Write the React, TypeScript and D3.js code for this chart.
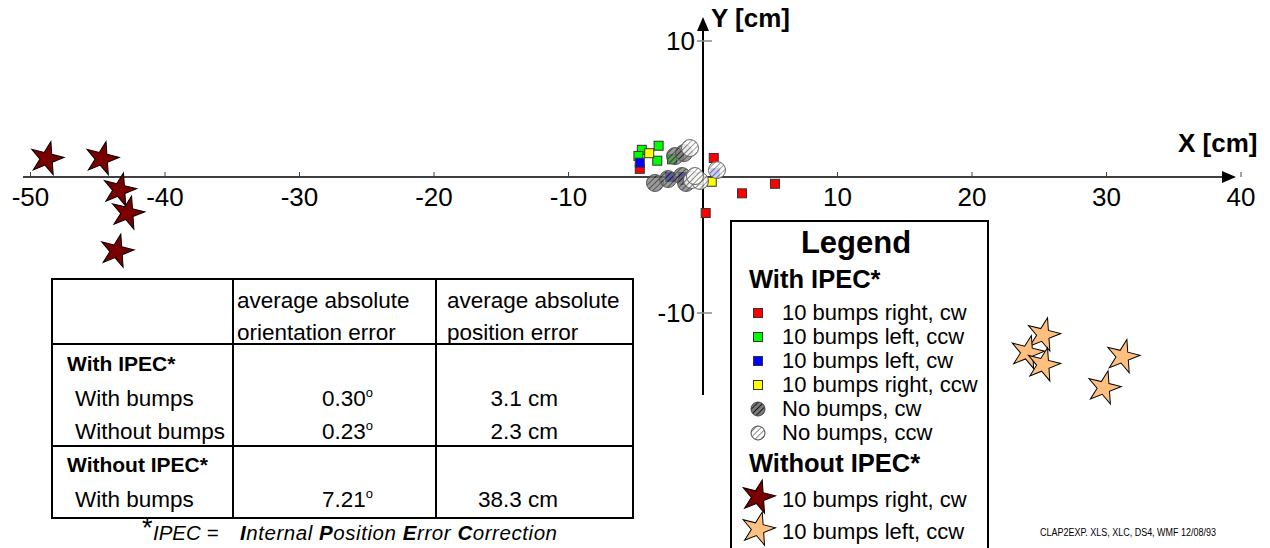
import React from 'react';
import * as d3 from 'd3';

// ---- data (cm) ----
const xTicks = [-50, -40, -30, -20, -10, 10, 20, 30, 40];
const yTicks = [10, -10];

const redRightCw: [number, number][] = [[-4.7, 0.6], [0.8, 1.4], [2.9, -1.2], [5.35, -0.5], [0.2, -2.65]];
const greenLeftCcw: [number, number][] = [[-4.55, 2.0], [-3.3, 2.3], [-4.8, 1.55], [-3.4, 1.2], [-2.3, 1.3]];
const blueLeftCw: [number, number][] = [[-4.7, 1.05], [-2.45, 0.0], [-1.5, 0.0], [0.9, 0.3]];
const yellowRightCcw: [number, number][] = [[-4.0, 1.75], [0.65, -0.35], [-0.35, -0.2], [-0.9, -0.1]];
const noBumpsCw: [number, number][] = [[-3.57, -0.44], [-2.6, -0.15], [-1.56, 0.07], [-1.26, -0.44], [-2.08, 1.54], [-1.41, 1.76]];
const noBumpsCcw: [number, number][] = [[-0.97, 2.13], [1.04, 0.51], [-0.82, -0.22], [-0.22, -0.29], [-0.6, 0.07]];
const starsRightCw: [number, number][] = [[-48.8, 1.35], [-44.7, 1.35], [-43.4, -0.95], [-42.8, -2.65], [-43.6, -5.45]];
const starsLeftCcw: [number, number][] = [[25.3, -11.6], [24.1, -12.9], [25.3, -13.8], [31.2, -13.2], [29.8, -15.5]];

const legendTitle = 'Legend';
const legendGroups = ['With IPEC*', 'Without IPEC*'];
const legendSquareLabels = ['10 bumps right, cw', '10 bumps left, ccw', '10 bumps left, cw', '10 bumps right, ccw'];
const legendCircleLabels = ['No bumps, cw', 'No bumps, ccw'];
const legendStarLabels = ['10 bumps right, cw', '10 bumps left, ccw'];

const tableHeaders = [['average absolute', 'orientation error'], ['average absolute', 'position error']];
const tableGroups = ['With IPEC*', 'Without IPEC*'];
const tableRowLabels = ['With bumps', 'Without bumps', 'With bumps'];
const orientationErrors = ['0.30', '0.23', '7.21'];
const positionErrors = ['3.1 cm', '2.3 cm', '38.3 cm'];

const footerNote = 'CLAP2EXP. XLS, XLC, DS4, WMF  12/08/93';

const FONT = '"Liberation Sans", Arial, Helvetica, sans-serif';
const squareColors = ['#ff0000', '#00ff00', '#0000ff', '#ffff00'];
const darkStar = '#7a0000';
const lightStar = '#ffc07f';

export default function App() {
  const x = d3.scaleLinear().domain([-50, 40]).range([30.5, 1241]);
  const y = d3.scaleLinear().domain([-10, 10]).range([313, 41]);
  const x0 = x(0);
  const y0 = y(0);
  const R = 17.5;
  const starPath = d3.symbol(d3.symbolStar, (R * R) / 0.8908130915292852)() as string;
  const sq = 9;

  const squareSeries = [redRightCw, greenLeftCcw, blueLeftCw, yellowRightCcw];

  // table layout
  const tL = 52, tR = 633, tT = 279, tB = 518;
  const c1 = 233, c2 = 436;
  const rH = 344, rM = 446;

  return (
    <svg width={1270} height={548} style={{ position: 'absolute', left: 0, top: 0, background: '#fff' }} fontFamily={FONT}>
      <defs>
        <pattern id="hatchDark" patternUnits="userSpaceOnUse" width={4} height={4} patternTransform="rotate(45)">
          <rect width={4} height={4} fill="#7a7a7a" />
          <line x1={0} y1={0} x2={0} y2={4} stroke="#1a1a1a" strokeWidth={2} />
        </pattern>
        <pattern id="hatchLight" patternUnits="userSpaceOnUse" width={4} height={4} patternTransform="rotate(45)">
          <rect width={4} height={4} fill="#ffffff" />
          <line x1={0} y1={0} x2={0} y2={4} stroke="#333" strokeWidth={1.2} />
        </pattern>
      </defs>

      {/* axes */}
      <line x1={23} y1={y0} x2={1224} y2={y0} stroke="#000" strokeWidth={1.5} />
      <path d={`M1236,${y0} L1222,${y0 - 6} L1222,${y0 + 6} Z`} fill="#000" />
      <line x1={x0} y1={28} x2={x0} y2={395} stroke="#000" strokeWidth={2} />
      <path d={`M${x0},17 L${x0 - 6},31 L${x0 + 6},31 Z`} fill="#000" />

      {xTicks.map((t) => (
        <g key={'xt' + t}>
          <line x1={x(t)} x2={x(t)} y1={y0 - 5} y2={y0} stroke="#444" strokeWidth={1} />
          <text x={x(t)} y={206} fontSize={26} textAnchor="middle">{t < 0 ? '-' + Math.abs(t) : String(t)}</text>
        </g>
      ))}
      {yTicks.map((t) => (
        <g key={'yt' + t}>
          <line x1={x0 - 6} x2={x0 + 9} y1={y(t)} y2={y(t)} stroke="#888" strokeWidth={1.5} />
          <text x={695} y={y(t) + 9} fontSize={26} textAnchor="end">{t < 0 ? '-' + Math.abs(t) : String(t)}</text>
        </g>
      ))}
      <text x={711} y={27} fontSize={26} fontWeight="bold">Y [cm]</text>
      <text x={1178} y={152} fontSize={26} fontWeight="bold">X [cm]</text>

      {/* squares */}
      {squareSeries.map((s, i) =>
        s.map((d, j) => (
          <rect key={`sq${i}-${j}`} x={x(d[0]) - sq / 2} y={y(d[1]) - sq / 2} width={sq} height={sq}
            fill={squareColors[i]} stroke="#333" strokeWidth={1} />
        ))
      )}
      {/* no bump circles */}
      {noBumpsCw.map((d, j) => (
        <circle key={'cw' + j} cx={x(d[0])} cy={y(d[1])} r={8.5} fill="url(#hatchDark)" fillOpacity={0.75} stroke="#555" strokeWidth={1} />
      ))}
      {noBumpsCcw.map((d, j) => (
        <circle key={'ccw' + j} cx={x(d[0])} cy={y(d[1])} r={8.5} fill="url(#hatchLight)" fillOpacity={0.8} stroke="#666" strokeWidth={1} />
      ))}
      {/* stars */}
      {starsRightCw.map((d, j) => (
        <path key={'sd' + j} d={starPath} transform={`translate(${x(d[0])},${y(d[1])}) rotate(14)`} fill={darkStar} stroke="#000" strokeWidth={1} />
      ))}
      {starsLeftCcw.map((d, j) => (
        <path key={'sl' + j} d={starPath} transform={`translate(${x(d[0])},${y(d[1])}) rotate(14)`} fill={lightStar} stroke="#000" strokeWidth={1} />
      ))}

      {/* legend */}
      <rect x={731} y={221} width={257} height={340} fill="#fff" stroke="#000" strokeWidth={2} />
      <text x={856} y={253} fontSize={31} fontWeight="bold" textAnchor="middle">{legendTitle}</text>
      <text x={749} y={288} fontSize={25.5} fontWeight="bold">{legendGroups[0]}</text>
      {legendSquareLabels.map((l, i) => (
        <g key={'lsq' + i}>
          <rect x={758 - 4.5} y={313 + i * 24 - 4.5} width={9} height={9} fill={squareColors[i]} stroke="#333" strokeWidth={1} />
          <text x={782} y={320 + i * 24} fontSize={22}>{l}</text>
        </g>
      ))}
      {legendCircleLabels.map((l, i) => (
        <g key={'lc' + i}>
          <circle cx={758} cy={409 + i * 24} r={7} fill={i === 0 ? 'url(#hatchDark)' : 'url(#hatchLight)'} stroke="#444" strokeWidth={1} />
          <text x={782} y={416 + i * 24} fontSize={22}>{l}</text>
        </g>
      ))}
      <text x={749} y={472} fontSize={25.5} fontWeight="bold">{legendGroups[1]}</text>
      {legendStarLabels.map((l, i) => (
        <g key={'ls' + i}>
          <path d={starPath} transform={`translate(758,${497 + i * 32}) rotate(14)`} fill={i === 0 ? darkStar : lightStar} stroke="#000" strokeWidth={1} />
          <text x={782} y={507 + i * 31.5} fontSize={22}>{l}</text>
        </g>
      ))}

      {/* table */}
      <rect x={tL} y={tT} width={tR - tL} height={tB - tT} fill="none" stroke="#000" strokeWidth={2} />
      <line x1={c1} x2={c1} y1={tT} y2={tB} stroke="#000" strokeWidth={2} />
      <line x1={c2} x2={c2} y1={tT} y2={tB} stroke="#000" strokeWidth={2} />
      <line x1={tL} x2={tR} y1={rH} y2={rH} stroke="#000" strokeWidth={2} />
      <line x1={tL} x2={tR} y1={rM} y2={rM} stroke="#000" strokeWidth={2} />
      {tableHeaders.map((h, i) => (
        <g key={'th' + i}>
          <text x={i === 0 ? 237 : 447} y={308} fontSize={22.5}>{h[0]}</text>
          <text x={i === 0 ? 237 : 447} y={340} fontSize={22.5}>{h[1]}</text>
        </g>
      ))}
      <text x={67} y={371} fontSize={21} fontWeight="bold">{tableGroups[0]}</text>
      <text x={67} y={472} fontSize={21} fontWeight="bold">{tableGroups[1]}</text>
      {tableRowLabels.map((l, i) => {
        const by = [406, 439, 507][i];
        return (
          <g key={'tr' + i}>
            <text x={75} y={by} fontSize={22.5}>{l}</text>
            <text x={373} y={by} fontSize={22.5} textAnchor="end">{orientationErrors[i]}<tspan dy={-9} fontSize={13}>o</tspan></text>
            <text x={558} y={by} fontSize={22.5} textAnchor="end">{positionErrors[i]}</text>
          </g>
        );
      })}
      <text x={142} y={537} fontSize={27}>*</text>
      <text x={153} y={540} fontSize={20.5} fontStyle="italic">IPEC =</text>
      <text x={240} y={540} fontSize={20.5} fontStyle="italic" textLength={317} lengthAdjust="spacing">
        <tspan fontWeight="bold">I</tspan>nternal <tspan fontWeight="bold">P</tspan>osition <tspan fontWeight="bold">E</tspan>rror <tspan fontWeight="bold">C</tspan>orrection
      </text>

      <text x={1040} y={536} fontSize={10} textLength={176} lengthAdjust="spacingAndGlyphs">{footerNote}</text>
    </svg>
  );
}
